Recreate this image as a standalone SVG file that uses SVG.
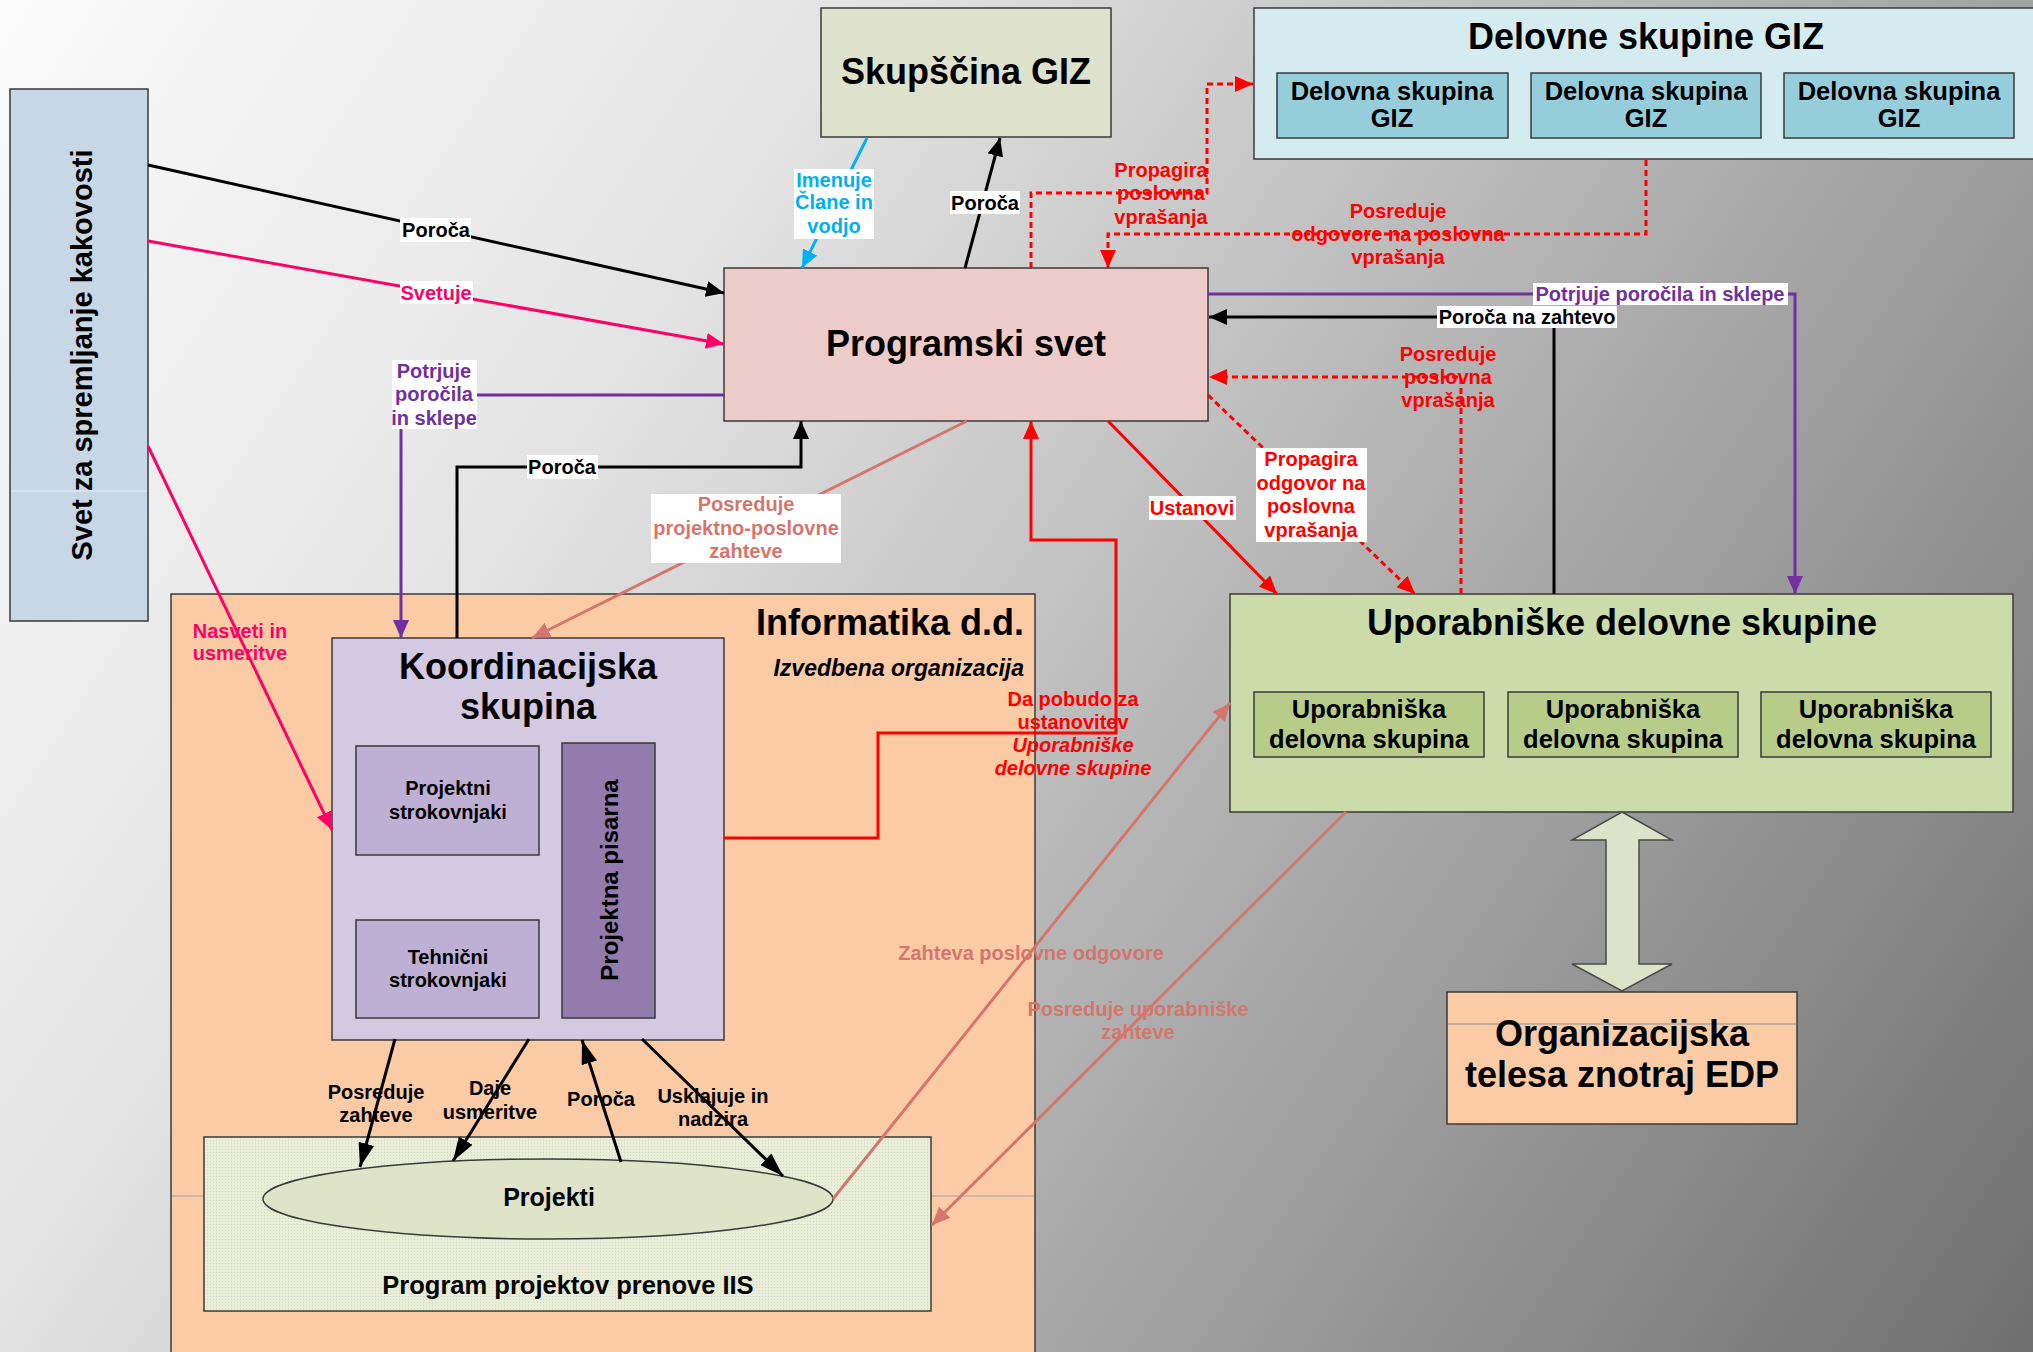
<svg xmlns="http://www.w3.org/2000/svg" width="2033" height="1352" viewBox="0 0 2033 1352">
  <defs>
    <linearGradient id="bgGrad" gradientUnits="userSpaceOnUse" x1="0" y1="0" x2="2033" y2="1352">
      <stop offset="0" stop-color="#fbfbfb"/>
      <stop offset="0.3" stop-color="#e3e3e3"/>
      <stop offset="0.55" stop-color="#b9b9b9"/>
      <stop offset="1" stop-color="#6f6f6f"/>
    </linearGradient>
    <pattern id="stipple" width="3" height="3" patternUnits="userSpaceOnUse">
      <rect width="3" height="3" fill="#e8eed8"/>
      <rect width="1" height="1" fill="#d2dac0"/>
    </pattern>
    <marker id="aBlk" viewBox="0 0 18 16" refX="18" refY="8" markerWidth="18" markerHeight="16" markerUnits="userSpaceOnUse" orient="auto"><path d="M0,0 L18,8 L0,16 z" fill="#000"/></marker>
    <marker id="aBig" viewBox="0 0 24 16" refX="24" refY="8" markerWidth="24" markerHeight="16" markerUnits="userSpaceOnUse" orient="auto"><path d="M0,0 L24,8 L0,16 z" fill="#000"/></marker>
    <marker id="aPink" viewBox="0 0 18 16" refX="18" refY="8" markerWidth="18" markerHeight="16" markerUnits="userSpaceOnUse" orient="auto"><path d="M0,0 L18,8 L0,16 z" fill="#ff0066"/></marker>
    <marker id="aPur" viewBox="0 0 18 16" refX="18" refY="8" markerWidth="18" markerHeight="16" markerUnits="userSpaceOnUse" orient="auto"><path d="M0,0 L18,8 L0,16 z" fill="#7030a0"/></marker>
    <marker id="aCyan" viewBox="0 0 18 16" refX="18" refY="8" markerWidth="18" markerHeight="16" markerUnits="userSpaceOnUse" orient="auto"><path d="M0,0 L18,8 L0,16 z" fill="#00b0f0"/></marker>
    <marker id="aRed" viewBox="0 0 18 16" refX="18" refY="8" markerWidth="18" markerHeight="16" markerUnits="userSpaceOnUse" orient="auto"><path d="M0,0 L18,8 L0,16 z" fill="#ff0000"/></marker>
    <marker id="aSal" viewBox="0 0 18 16" refX="18" refY="8" markerWidth="18" markerHeight="16" markerUnits="userSpaceOnUse" orient="auto"><path d="M0,0 L18,8 L0,16 z" fill="#d4766e"/></marker>
  </defs>
  <style>
    .box{stroke:#3a3a3a;stroke-width:1.5}
    text{font-family:"Liberation Sans",Arial,sans-serif;font-weight:bold}
    .ttl{font-size:36px;text-anchor:middle;fill:#000}
    .sub{font-size:25.5px;text-anchor:middle;fill:#000}
    .sm{font-size:20px;text-anchor:middle}
    .lb{fill:#fff}
    .k{stroke:#000;stroke-width:3;fill:none}
    .pk{stroke:#ff0066;stroke-width:3;fill:none}
    .pu{stroke:#7030a0;stroke-width:3;fill:none}
    .cy{stroke:#00b0f0;stroke-width:3;fill:none}
    .rd{stroke:#ff0000;stroke-width:3;fill:none}
    .rdd{stroke:#ff0000;stroke-width:3;fill:none;stroke-dasharray:6 4}
    .sa{stroke:#d4766e;stroke-width:3;fill:none}
    .tk{fill:#000}.tpk{fill:#ff0066}.tpu{fill:#7030a0}.tcy{fill:#00b0f0}.trd{fill:#ff0000}.tsa{fill:#d4766e}
  </style>

  <!-- backdrop -->
  <rect x="0" y="0" width="2033" height="1352" fill="url(#bgGrad)"/>

  <!-- quality council -->
  <g id="svet-kakovost">
    <rect class="box" x="10" y="89" width="138" height="532" fill="#c8d7e6"/>
    <line x1="11" y1="491" x2="147" y2="491" stroke="#e6edf5" stroke-width="1"/>
    <text transform="translate(82,355) rotate(-90)" y="10" font-size="29" text-anchor="middle" fill="#000">Svet za spremljanje kakovosti</text>
  </g>

  <g id="skupscina-giz">
    <rect class="box" x="821" y="8" width="290" height="129" fill="#dee1cb"/>
    <text class="ttl" x="966" y="84">Skupščina GIZ</text>
  </g>

  <g id="delovne-skupine-giz">
    <rect class="box" x="1254" y="8" width="790" height="151" fill="#d4ebf0"/>
    <text class="ttl" x="1646" y="49">Delovne skupine GIZ</text>
    <g id="dsg-1">
      <rect class="box" x="1277" y="73" width="231" height="65" fill="#96cddb"/>
      <text class="sub" x="1392" y="100">Delovna skupina</text>
      <text class="sub" x="1392" y="127">GIZ</text>
    </g>
    <g id="dsg-2">
      <rect class="box" x="1531" y="73" width="230" height="65" fill="#96cddb"/>
      <text class="sub" x="1646" y="100">Delovna skupina</text>
      <text class="sub" x="1646" y="127">GIZ</text>
    </g>
    <g id="dsg-3">
      <rect class="box" x="1784" y="73" width="230" height="65" fill="#96cddb"/>
      <text class="sub" x="1899" y="100">Delovna skupina</text>
      <text class="sub" x="1899" y="127">GIZ</text>
    </g>
  </g>

  <g id="programski-svet">
    <rect class="box" x="724" y="268" width="484" height="153" fill="#eccbc9"/>
    <text class="ttl" x="966" y="356">Programski svet</text>
  </g>

  <g id="informatika">
    <rect class="box" x="171" y="594" width="864" height="770" fill="#fbcba6"/>
    <line x1="172" y1="1196" x2="1034" y2="1196" stroke="#9aa3ad" stroke-width="1"/>
    <text x="1024" y="635" font-size="36" text-anchor="end" fill="#000">Informatika d.d.</text>
    <text x="1024" y="676" font-size="23" font-style="italic" text-anchor="end" fill="#000">Izvedbena organizacija</text>
  </g>

  <g id="koordinacijska-skupina">
    <rect class="box" x="332" y="638" width="392" height="402" fill="#d3c9e1"/>
    <text class="ttl" x="528" y="679">Koordinacijska</text>
    <text class="ttl" x="528" y="719">skupina</text>
  </g>

  <g id="projektni-strokovnjaki">
    <rect class="box" x="356" y="746" width="183" height="109" fill="#bdb0d4"/>
    <text class="sm tk" x="448" y="795">Projektni</text>
    <text class="sm tk" x="448" y="819">strokovnjaki</text>
  </g>

  <g id="tehnicni-strokovnjaki">
    <rect class="box" x="356" y="920" width="183" height="98" fill="#bdb0d4"/>
    <text class="sm tk" x="448" y="964">Tehnični</text>
    <text class="sm tk" x="448" y="987">strokovnjaki</text>
  </g>

  <g id="projektna-pisarna">
    <rect class="box" x="562" y="743" width="93" height="275" fill="#937bad"/>
    <text transform="translate(609,880) rotate(-90)" y="9" font-size="24" text-anchor="middle" fill="#000">Projektna pisarna</text>
  </g>

  <g id="program-iis">
    <rect class="box" x="204" y="1137" width="727" height="174" fill="url(#stipple)"/>
    <text x="568" y="1294" font-size="25.5" text-anchor="middle" fill="#000">Program projektov prenove IIS</text>
  </g>

  <g id="projekti">
    <ellipse class="box" cx="548" cy="1199" rx="285" ry="40" fill="#dfe3c8"/>
    <text x="549" y="1206" font-size="25" text-anchor="middle" fill="#000">Projekti</text>
  </g>

  <g id="uporabniske-skupine">
    <rect class="box" x="1230" y="594" width="783" height="218" fill="#cbdba9"/>
    <text class="ttl" x="1622" y="635">Uporabniške delovne skupine</text>
    <g id="uds-1">
      <rect class="box" x="1254" y="692" width="230" height="65" fill="#b8cc8a"/>
      <text class="sub" x="1369" y="718">Uporabniška</text>
      <text class="sub" x="1369" y="748">delovna skupina</text>
    </g>
    <g id="uds-2">
      <rect class="box" x="1508" y="692" width="230" height="65" fill="#b8cc8a"/>
      <text class="sub" x="1623" y="718">Uporabniška</text>
      <text class="sub" x="1623" y="748">delovna skupina</text>
    </g>
    <g id="uds-3">
      <rect class="box" x="1761" y="692" width="230" height="65" fill="#b8cc8a"/>
      <text class="sub" x="1876" y="718">Uporabniška</text>
      <text class="sub" x="1876" y="748">delovna skupina</text>
    </g>
  </g>

  <g id="organizacijska-telesa">
    <rect class="box" x="1447" y="992" width="350" height="132" fill="#fbcba6"/>
    <line x1="1448" y1="1024" x2="1796" y2="1024" stroke="#8f8f8f" stroke-width="1"/>
    <text class="ttl" x="1622" y="1046">Organizacijska</text>
    <text class="ttl" x="1622" y="1087">telesa znotraj EDP</text>
  </g>

  <!-- connectors and their labels -->
  <g id="connectors">
    <!-- two-way block arrow between user groups and EDP bodies -->
    <polygon points="1622,812 1672,840 1639,840 1639,964 1672,964 1622,991 1572,964 1606,964 1606,840 1572,840" fill="#dde3c8" stroke="#4a4a4a" stroke-width="1.5"/>

    <!-- quality council to programme council -->
    <line class="k" x1="148" y1="165" x2="724" y2="293" marker-end="url(#aBlk)"/>
    <line class="pk" x1="148" y1="241" x2="724" y2="344" marker-end="url(#aPink)"/>
    <line class="pk" x1="148" y1="446" x2="332" y2="830" marker-end="url(#aPink)"/>
    <polyline class="pu" points="724,395 401,395 401,638" marker-end="url(#aPur)"/>
    <polyline class="k" points="457,638 457,467 801,467 801,421" marker-end="url(#aBlk)"/>
    <line class="sa" x1="967" y1="421" x2="532" y2="638" marker-end="url(#aSal)"/>

    <!-- assembly -->
    <line class="cy" x1="867" y1="138" x2="802" y2="268" marker-end="url(#aCyan)"/>
    <line class="k" x1="965" y1="268" x2="1000" y2="138" marker-end="url(#aBlk)"/>

    <!-- GIZ working groups -->
    <polyline class="rdd" points="1031,268 1031,193 1207,193 1207,84 1253,84" marker-end="url(#aRed)"/>
    <polyline class="rdd" points="1646,160 1646,234 1108,234 1108,268" marker-end="url(#aRed)"/>

    <!-- user working groups -->
    <polyline class="pu" points="1208,294 1795,294 1795,594" marker-end="url(#aPur)"/>
    <polyline class="k" points="1554,594 1554,317 1209,317" marker-end="url(#aBlk)"/>
    <polyline class="rdd" points="1461,594 1461,377 1209,377" marker-end="url(#aRed)"/>
    <line class="rdd" x1="1208" y1="395" x2="1415" y2="594" marker-end="url(#aRed)"/>
    <line class="rd" x1="1108" y1="421" x2="1277" y2="594" marker-end="url(#aRed)"/>
    <polyline class="rd" points="724,838 878,838 878,733 1116,733 1116,540 1031,540 1031,421" marker-end="url(#aRed)"/>
    <line class="sa" x1="833" y1="1199" x2="1230" y2="703" marker-end="url(#aSal)"/>
    <line class="sa" x1="1346" y1="812" x2="932" y2="1225" marker-end="url(#aSal)"/>

    <!-- coordination group to projects -->
    <line class="k" x1="395" y1="1039" x2="360" y2="1167" marker-end="url(#aBig)"/>
    <line class="k" x1="529" y1="1039" x2="453" y2="1161" marker-end="url(#aBig)"/>
    <line class="k" x1="621" y1="1162" x2="582" y2="1040" marker-end="url(#aBig)"/>
    <line class="k" x1="642" y1="1039" x2="783" y2="1176" marker-end="url(#aBig)"/>

    <!-- label plates -->
    <rect class="lb" x="400" y="218" width="71" height="24"/>
    <rect class="lb" x="400" y="281" width="73" height="23"/>
    <rect class="lb" x="392" y="360" width="85" height="69"/>
    <rect class="lb" x="527" y="455" width="71" height="24"/>
    <rect class="lb" x="651" y="494" width="190" height="69"/>
    <rect class="lb" x="794" y="169" width="80" height="70"/>
    <rect class="lb" x="950" y="191" width="70" height="23"/>
    <rect class="lb" x="1533" y="283" width="255" height="22"/>
    <rect class="lb" x="1437" y="306" width="180" height="22"/>
    <rect class="lb" x="1256" y="448" width="111" height="94"/>
    <rect class="lb" x="1149" y="496" width="87" height="24"/>

    <!-- labels -->
    <text class="sm tk" x="436" y="237">Poroča</text>
    <text class="sm tpk" x="436" y="300">Svetuje</text>
    <text class="sm tpu" x="434" y="378">Potrjuje</text>
    <text class="sm tpu" x="434" y="401">poročila</text>
    <text class="sm tpu" x="434" y="425">in sklepe</text>
    <text class="sm tk" x="562" y="474">Poroča</text>
    <text class="sm tsa" x="746" y="511">Posreduje</text>
    <text class="sm tsa" x="746" y="535">projektno-poslovne</text>
    <text class="sm tsa" x="746" y="558">zahteve</text>
    <text class="sm tpk" x="240" y="638">Nasveti in</text>
    <text class="sm tpk" x="240" y="660">usmeritve</text>

    <text class="sm tcy" x="834" y="187">Imenuje</text>
    <text class="sm tcy" x="834" y="209">Člane in</text>
    <text class="sm tcy" x="834" y="233">vodjo</text>
    <text class="sm tk" x="985" y="210">Poroča</text>

    <text class="sm trd" x="1161" y="177">Propagira</text>
    <text class="sm trd" x="1161" y="200">poslovna</text>
    <text class="sm trd" x="1161" y="224">vprašanja</text>
    <text class="sm trd" x="1398" y="218">Posreduje</text>
    <text class="sm trd" x="1398" y="241">odgovore na poslovna</text>
    <text class="sm trd" x="1398" y="264">vprašanja</text>

    <text class="sm tpu" x="1660" y="301">Potrjuje poročila in sklepe</text>
    <text class="sm tk" x="1527" y="324">Poroča na zahtevo</text>
    <text class="sm trd" x="1448" y="361">Posreduje</text>
    <text class="sm trd" x="1448" y="384">poslovna</text>
    <text class="sm trd" x="1448" y="407">vprašanja</text>
    <text class="sm trd" x="1311" y="466">Propagira</text>
    <text class="sm trd" x="1311" y="490">odgovor na</text>
    <text class="sm trd" x="1311" y="513">poslovna</text>
    <text class="sm trd" x="1311" y="537">vprašanja</text>
    <text class="sm trd" x="1192" y="515">Ustanovi</text>

    <text class="sm trd" x="1073" y="706">Da pobudo za</text>
    <text class="sm trd" x="1073" y="729">ustanovitev</text>
    <text class="sm trd" x="1073" y="752" font-style="italic">Uporabniške</text>
    <text class="sm trd" x="1073" y="775" font-style="italic">delovne skupine</text>

    <text class="sm tsa" x="1031" y="960">Zahteva poslovne odgovore</text>
    <text class="sm tsa" x="1138" y="1016">Posreduje uporabniške</text>
    <text class="sm tsa" x="1138" y="1039">zahteve</text>

    <text class="sm tk" x="376" y="1099">Posreduje</text>
    <text class="sm tk" x="376" y="1122">zahteve</text>
    <text class="sm tk" x="490" y="1095">Daje</text>
    <text class="sm tk" x="490" y="1119">usmeritve</text>
    <text class="sm tk" x="601" y="1106">Poroča</text>
    <text class="sm tk" x="713" y="1103">Usklajuje in</text>
    <text class="sm tk" x="713" y="1126">nadzira</text>
  </g>
</svg>
